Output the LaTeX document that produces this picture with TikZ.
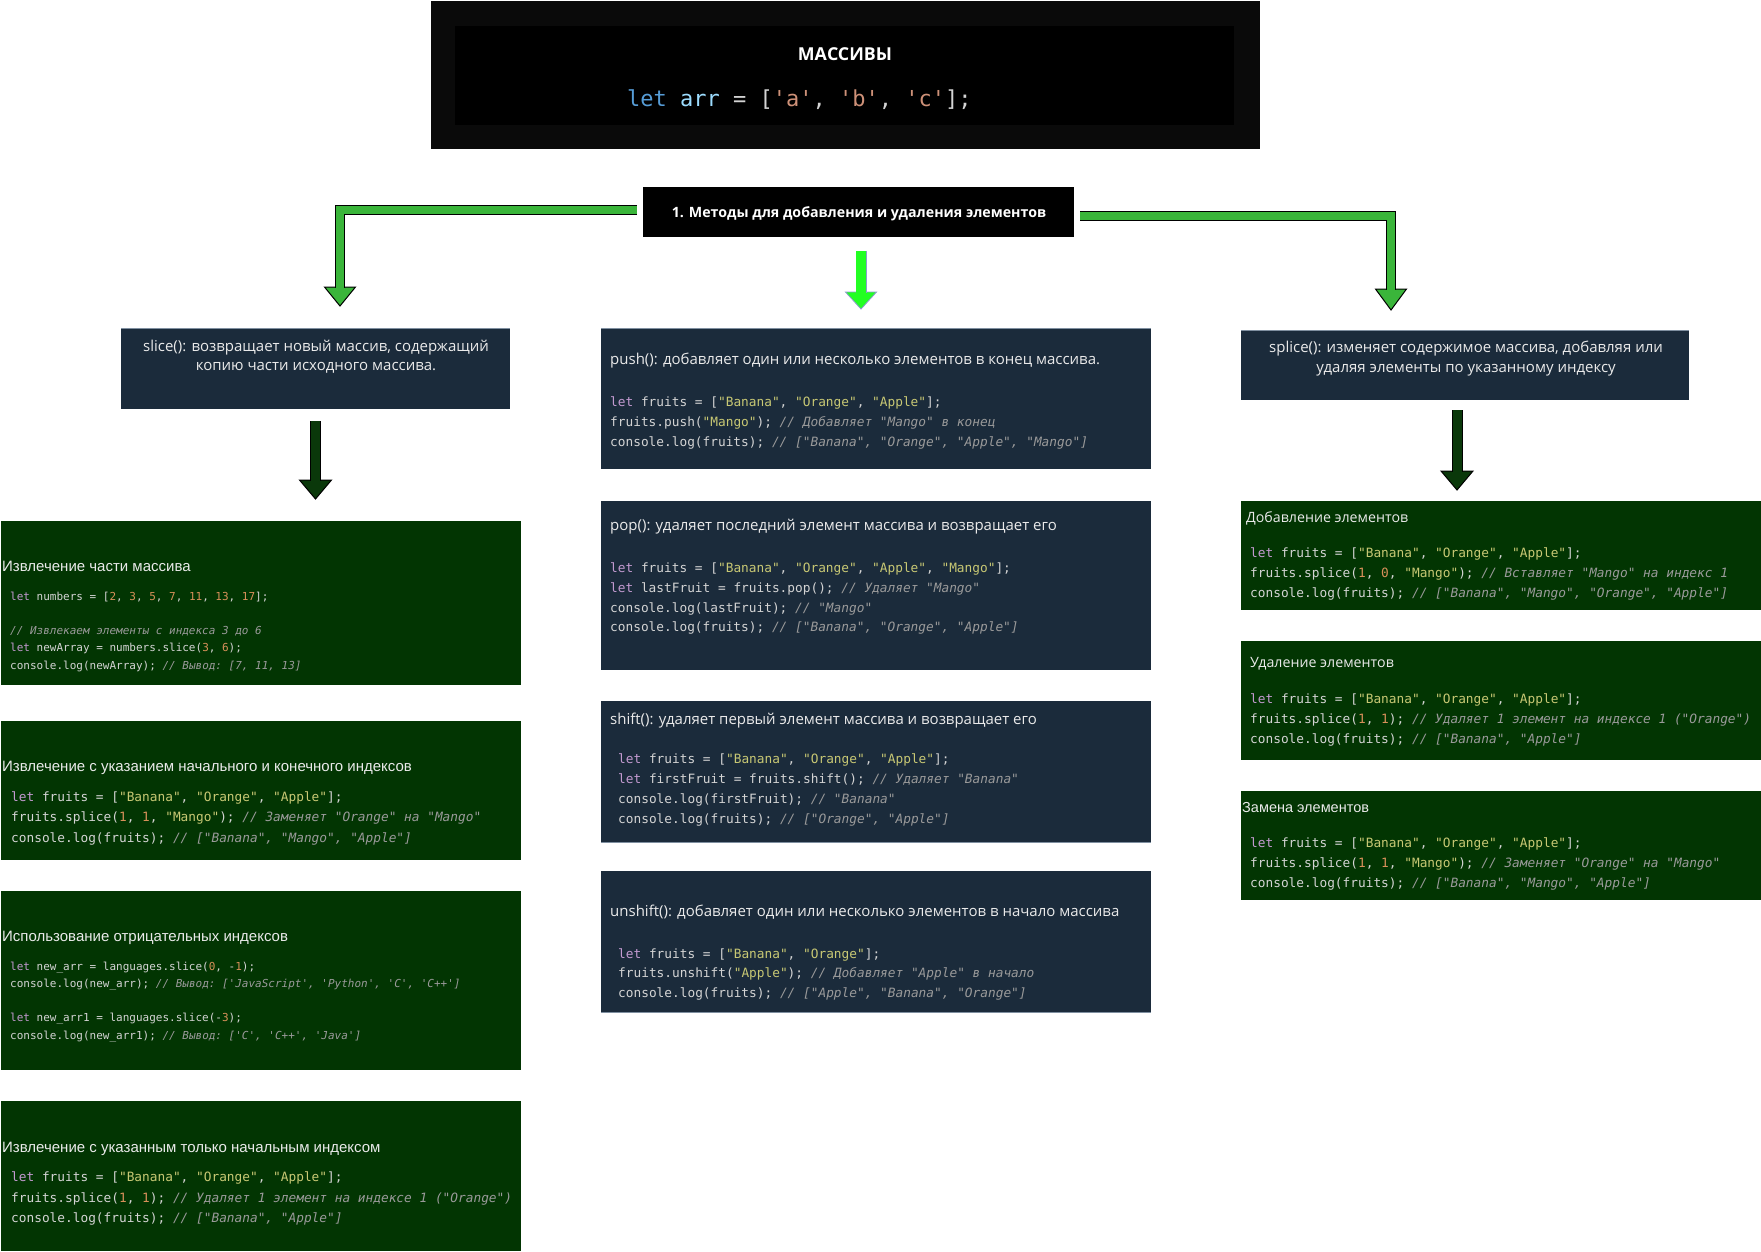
\documentclass[tikz,border=0pt]{standalone}
\usepackage{fontspec}
\setmainfont{Open Sans}
\newfontfamily\arialf{Liberation Sans}
\setmonofont{DejaVu Sans Mono}
\usetikzlibrary{calc}
\definecolor{navyc}{HTML}{1B2B3B}
\definecolor{greenbox}{HTML}{023502}
\definecolor{topout}{HTML}{0A0A0A}
\definecolor{txtc}{HTML}{EAEAEA}
\definecolor{codec}{HTML}{D4D4D4}
\definecolor{kwc}{HTML}{C39AD0}
\definecolor{strc}{HTML}{C8C874}
\definecolor{numc}{HTML}{D8905A}
\definecolor{comc}{HTML}{9A9A9A}
\definecolor{arrg}{HTML}{3AB53A}
\definecolor{arrbright}{HTML}{22FF22}
\definecolor{arrdark}{HTML}{0A380A}
\definecolor{brightedge}{HTML}{8C9CCC}
\definecolor{edgec}{HTML}{7F8FA0}
\definecolor{tkw}{HTML}{569CD6}
\definecolor{tvar}{HTML}{9CDCFE}
\definecolor{tstr}{HTML}{CE9178}
\newcommand\ckw[1]{\textcolor{kwc}{#1}}
\newcommand\cstr[1]{\textcolor{strc}{#1}}
\newcommand\cnum[1]{\textcolor{numc}{#1}}
\newcommand\ccom[1]{{\color{comc}\itshape #1}}
\tikzset{
  boxn/.style={inner sep=0pt, outer sep=0pt, anchor=north west, draw=none},
  navybox/.style={boxn, fill=navyc},
  greenbx/.style={boxn, fill=greenbox},
  ttl/.style={inner sep=0pt, anchor=base west, text=txtc, font=\fontsize{15}{18}\selectfont},
  ttlc/.style={ttl, anchor=base},
  ttlr/.style={ttl, font=\fontsize{14.2}{17}\selectfont},
  ttla/.style={ttl, font=\arialf\fontsize{15}{18}\selectfont},
  code/.style={inner sep=0pt, anchor=base west, text=codec, font=\ttfamily\fontsize{12.8}{15}\selectfont},
  codes/.style={code, font=\ttfamily\fontsize{11}{13}\selectfont},
  shaftg/.style={line width=1pt, draw=black, double=arrg, double distance=8pt},
  headg/.style={line width=1pt, draw=black, fill=arrg, line join=miter},
  shaftb/.style={line width=0.8pt, draw=brightedge, double=arrbright, double distance=9.4pt},
  headb/.style={line width=0.8pt, draw=brightedge, fill=arrbright},
  shaftd/.style={line width=1pt, draw=black, double=arrdark, double distance=9pt},
  headd/.style={line width=1pt, draw=black, fill=arrdark},
  edgeln/.style={line width=1pt, draw=edgec},
}
\begin{document}
\begin{tikzpicture}[x=1pt, y=-1pt]
\fill[white] (0,0) rectangle (1761,1251);
\useasboundingbox (0,0) rectangle (1761,1251);

% ---- top box
\node[boxn, fill=topout, minimum width=829pt, minimum height=148pt] (topo) at (431,1) {};
\node[boxn, fill=black, minimum width=779pt, minimum height=99pt] (topi) at (455,26) {};
\node[inner sep=0pt, anchor=base, text=white, font=\bfseries\fontsize{17.8}{21}\selectfont] (ttitle) at (845,60.5) {МАССИВЫ};
\node[inner sep=0pt, anchor=base west, font=\ttfamily\fontsize{22}{26}\selectfont] (tcode) at (627,106.5)
  {{\color{tkw}let} {\color{tvar}arr} {\color{codec}= [}{\color{tstr}'a'}{\color{codec}, }{\color{tstr}'b'}{\color{codec}, }{\color{tstr}'c'}{\color{codec}];}};

% ---- header
\node[fill=black, inner sep=0pt, outer sep=0pt, minimum width=431pt, minimum height=50pt] (hdr) at (858.5,212) {};
\node[inner sep=0pt, anchor=base, text=white, font=\bfseries\fontsize{14.2}{17}\selectfont] (hdrt) at (859,217) {1. Методы для добавления и удаления элементов};

% ---- left column
\node[navybox, minimum width=389pt, minimum height=81pt] (slice) at (121,328) {};
\draw[edgeln] (slice.north west) -- (slice.north east);
\node[ttlc] (slicet1) at (316,351) {slice(): возвращает новый массив, содержащий};
\node[ttlc] (slicet2) at (316,370) {копию части исходного массива.};

\node[greenbx, minimum width=520pt, minimum height=164pt] (L1) at (1,521) {};
\node[ttla] (L1t) at (2,571) {Извлечение части массива};
\node[codes] (L1a) at (10,600) {\ckw{let} numbers = [\cnum{2}, \cnum{3}, \cnum{5}, \cnum{7}, \cnum{11}, \cnum{13}, \cnum{17}];};
\node[codes] (L1b) at (10,634) {\ccom{// Извлекаем элементы с индекса 3 до 6}};
\node[codes] (L1c) at (10,651) {\ckw{let} newArray = numbers.slice(\cnum{3}, \cnum{6});};
\node[codes] (L1d) at (10,669) {console.log(newArray); \ccom{// Вывод: [7, 11, 13]}};

\node[greenbx, minimum width=520pt, minimum height=139pt] (L2) at (1,721) {};
\node[ttla] (L2t) at (2,771) {Извлечение с указанием начального и конечного индексов};
\node[code] (L2a) at (11,801.5) {\ckw{let} fruits = [\cstr{"Banana"}, \cstr{"Orange"}, \cstr{"Apple"}];};
\node[code] (L2b) at (11,821.5) {fruits.splice(\cnum{1}, \cnum{1}, \cstr{"Mango"}); \ccom{// Заменяет "Orange" на "Mango"}};
\node[code] (L2c) at (11,842.5) {console.log(fruits); \ccom{// ["Banana", "Mango", "Apple"]}};

\node[greenbx, minimum width=520pt, minimum height=179pt] (L3) at (1,891) {};
\node[ttla] (L3t) at (2,941) {Использование отрицательных индексов};
\node[codes] (L3a) at (10,970) {\ckw{let} new\_arr = languages.slice(\cnum{0}, -\cnum{1});};
\node[codes] (L3b) at (10,987) {console.log(new\_arr); \ccom{// Вывод: ['JavaScript', 'Python', 'C', 'C++']}};
\node[codes] (L3c) at (10,1021) {\ckw{let} new\_arr1 = languages.slice(-\cnum{3});};
\node[codes] (L3d) at (10,1039) {console.log(new\_arr1); \ccom{// Вывод: ['C', 'C++', 'Java']}};

\node[greenbx, minimum width=520pt, minimum height=150pt] (L4) at (1,1101) {};
\node[ttla] (L4t) at (2,1152) {Извлечение с указанным только начальным индексом};
\node[code] (L4a) at (11,1181.5) {\ckw{let} fruits = [\cstr{"Banana"}, \cstr{"Orange"}, \cstr{"Apple"}];};
\node[code] (L4b) at (11,1202.5) {fruits.splice(\cnum{1}, \cnum{1}); \ccom{// Удаляет 1 элемент на индексе 1 ("Orange")}};
\node[code] (L4c) at (11,1222.5) {console.log(fruits); \ccom{// ["Banana", "Apple"]}};

% ---- middle column
\node[navybox, minimum width=550pt, minimum height=141pt] (push) at (601,328) {};
\draw[edgeln] (push.north west) -- (push.north east);
\node[ttl] (pusht) at (610,364) {push(): добавляет один или несколько элементов в конец массива.};
\node[code] (pusha) at (610,406.5) {\ckw{let} fruits = [\cstr{"Banana"}, \cstr{"Orange"}, \cstr{"Apple"}];};
\node[code] (pushb) at (610,426.5) {fruits.push(\cstr{"Mango"}); \ccom{// Добавляет "Mango" в конец}};
\node[code] (pushc) at (610,446.5) {console.log(fruits); \ccom{// ["Banana", "Orange", "Apple", "Mango"]}};

\node[navybox, minimum width=550pt, minimum height=169pt] (pop) at (601,501) {};
\node[ttl] (popt) at (610,530) {pop(): удаляет последний элемент массива и возвращает его};
\node[code] (popa) at (610,572.5) {\ckw{let} fruits = [\cstr{"Banana"}, \cstr{"Orange"}, \cstr{"Apple"}, \cstr{"Mango"}];};
\node[code] (popb) at (610,592.5) {\ckw{let} lastFruit = fruits.pop(); \ccom{// Удаляет "Mango"}};
\node[code] (popc) at (610,612.5) {console.log(lastFruit); \ccom{// "Mango"}};
\node[code] (popd) at (610,631.5) {console.log(fruits); \ccom{// ["Banana", "Orange", "Apple"]}};

\node[navybox, minimum width=550pt, minimum height=141pt] (shift) at (601,701) {};
\draw[edgeln] (shift.south west) -- (shift.south east);
\node[ttl] (shiftt) at (610,724) {shift(): удаляет первый элемент массива и возвращает его};
\node[code] (shifta) at (618,763.5) {\ckw{let} fruits = [\cstr{"Banana"}, \cstr{"Orange"}, \cstr{"Apple"}];};
\node[code] (shiftb) at (618,783.5) {\ckw{let} firstFruit = fruits.shift(); \ccom{// Удаляет "Banana"}};
\node[code] (shiftc) at (618,803.5) {console.log(firstFruit); \ccom{// "Banana"}};
\node[code] (shiftd) at (618,823.5) {console.log(fruits); \ccom{// ["Orange", "Apple"]}};

\node[navybox, minimum width=550pt, minimum height=141pt] (unshift) at (601,871) {};
\draw[edgeln] (unshift.south west) -- (unshift.south east);
\node[ttl] (unshiftt) at (610,916) {unshift(): добавляет один или несколько элементов в начало массива};
\node[code] (unshifta) at (618,958.5) {\ckw{let} fruits = [\cstr{"Banana"}, \cstr{"Orange"}];};
\node[code] (unshiftb) at (618,977.5) {fruits.unshift(\cstr{"Apple"}); \ccom{// Добавляет "Apple" в начало}};
\node[code] (unshiftc) at (618,997.5) {console.log(fruits); \ccom{// ["Apple", "Banana", "Orange"]}};

% ---- right column
\node[navybox, minimum width=448pt, minimum height=70pt] (splice) at (1241,330) {};
\draw[edgeln] (splice.north west) -- (splice.north east);
\node[ttlc] (splicet1) at (1466,352) {splice(): изменяет содержимое массива, добавляя или};
\node[ttlc] (splicet2) at (1466,372) {удаляя элементы по указанному индексу};

\node[greenbx, minimum width=520pt, minimum height=109pt] (R1) at (1241,501) {};
\node[ttlr] (R1t) at (1246,522) {Добавление элементов};
\node[code] (R1a) at (1250,557.5) {\ckw{let} fruits = [\cstr{"Banana"}, \cstr{"Orange"}, \cstr{"Apple"}];};
\node[code] (R1b) at (1250,577.5) {fruits.splice(\cnum{1}, \cnum{0}, \cstr{"Mango"}); \ccom{// Вставляет "Mango" на индекс 1}};
\node[code] (R1c) at (1250,597.5) {console.log(fruits); \ccom{// ["Banana", "Mango", "Orange", "Apple"]}};

\node[greenbx, minimum width=520pt, minimum height=119pt] (R2) at (1241,641) {};
\node[ttlr] (R2t) at (1250,667) {Удаление элементов};
\node[code] (R2a) at (1250,703.5) {\ckw{let} fruits = [\cstr{"Banana"}, \cstr{"Orange"}, \cstr{"Apple"}];};
\node[code] (R2b) at (1250,723.5) {fruits.splice(\cnum{1}, \cnum{1}); \ccom{// Удаляет 1 элемент на индексе 1 ("Orange")}};
\node[code] (R2c) at (1250,743.5) {console.log(fruits); \ccom{// ["Banana", "Apple"]}};

\node[greenbx, minimum width=520pt, minimum height=109pt] (R3) at (1241,791) {};
\node[ttla, font=\arialf\fontsize{14.5}{17}\selectfont] (R3t) at (1242,812) {Замена элементов};
\node[code] (R3a) at (1250,847.5) {\ckw{let} fruits = [\cstr{"Banana"}, \cstr{"Orange"}, \cstr{"Apple"}];};
\node[code] (R3b) at (1250,867.5) {fruits.splice(\cnum{1}, \cnum{1}, \cstr{"Mango"}); \ccom{// Заменяет "Orange" на "Mango"}};
\node[code] (R3c) at (1250,887.5) {console.log(fruits); \ccom{// ["Banana", "Mango", "Apple"]}};

% ---- arrows
\coordinate (tipL) at (340,306);
\coordinate (tipR) at (1391,310);
\coordinate (tipM) at (861,309);
\coordinate (tipD1) at ($(slice.south)+(0,90)$);
\coordinate (tipD2) at (1457,490);

\filldraw[headg] (tipL) -- ++(-15.5,-19) -- ++(31,0) -- cycle;
\draw[shaftg] ($(hdr.west)+(-6,-2)$) -| ($(tipL)+(0,-18)$);

\filldraw[headg] (tipR) -- ++(-15.5,-21) -- ++(31,0) -- cycle;
\draw[shaftg] ($(hdr.east)+(6,4)$) -| ($(tipR)+(0,-20)$);

\filldraw[headb] (tipM) -- ++(-15.5,-17) -- ++(31,0) -- cycle;
\draw[shaftb] ($(tipM |- hdr.south)+(0,14)$) -- ($(tipM)+(0,-16.2)$);

\filldraw[headd] (tipD1) -- ++(-16,-19) -- ++(32,0) -- cycle;
\draw[shaftd] ($(slice.south)+(0,12)$) -- ($(tipD1)+(0,-18)$);

\filldraw[headd] (tipD2) -- ++(-16,-19) -- ++(32,0) -- cycle;
\draw[shaftd] ($(splice.south)+(-8,10)$) -- ($(tipD2)+(0,-18)$);
\end{tikzpicture}
\end{document}
